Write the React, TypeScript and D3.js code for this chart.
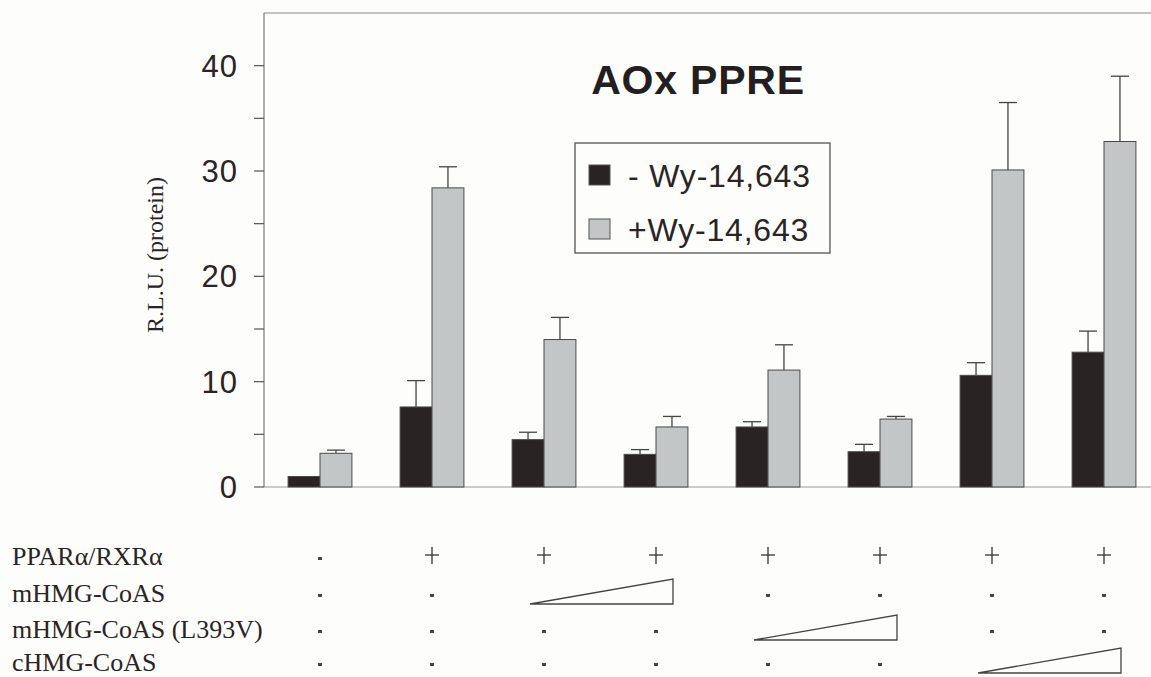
import * as React from 'react';
import * as d3 from 'd3';

const width = 1151;
const height = 677;

const groups = ['g1', 'g2', 'g3', 'g4', 'g5', 'g6', 'g7', 'g8'];
const series = ['- Wy-14,643', '+Wy-14,643'];
const minusWy = [1.0, 7.6, 4.5, 3.1, 5.7, 3.35, 10.6, 12.8];
const minusWyErr = [0, 2.5, 0.7, 0.45, 0.5, 0.7, 1.2, 2.0];
const plusWy = [3.2, 28.4, 14.0, 5.7, 11.1, 6.45, 30.1, 32.8];
const plusWyErr = [0.3, 2.0, 2.1, 1.0, 2.4, 0.25, 6.4, 6.2];
const yTicks = [0, 10, 20, 30, 40];
const yMinorTicks = [5, 15, 25, 35];

const rowLabels = ['PPARα/RXRα', 'mHMG-CoAS', 'mHMG-CoAS (L393V)', 'cHMG-CoAS'];
const rowPPAR = ['-', '+', '+', '+', '+', '+', '+', '+'];
const rowMHMG = ['-', '-', 'ramp', 'ramp', '-', '-', '-', '-'];
const rowMutant = ['-', '-', '-', '-', 'ramp', 'ramp', '-', '-'];
const rowCHMG = ['-', '-', '-', '-', '-', '-', 'ramp', 'ramp'];
const tableRows = [rowPPAR, rowMHMG, rowMutant, rowCHMG];

const colors = ['#2a2323', '#c2c6c6'];

export default function App() {
  const x = d3.scaleBand<string>().domain(groups).range([264, 1160]).paddingInner(0.43).paddingOuter(0.215);
  const xs = d3.scaleBand<string>().domain(series).range([0, x.bandwidth()]);
  const y = d3.scaleLinear().domain([0, 45]).range([487, 13]);

  const values = [minusWy, plusWy];
  const errs = [minusWyErr, plusWyErr];
  const cx = (g: string) => (x(g) ?? 0) + x.bandwidth() / 2;

  const rowBaselines = [565, 602, 638, 671];
  const sans = 'Arial, "Liberation Sans", Helvetica, sans-serif';
  const serif = '"Times New Roman", "Liberation Serif", serif';

  return (
    <svg width={width} height={height} style={{position: 'absolute', left: 0, top: 0, background: '#fdfdfc'}}>
      {/* frame */}
      <line x1={264} x2={width} y1={y(45)} y2={y(45)} stroke="#8a8a8a" strokeWidth={1.2} />
      <line x1={264} x2={width} y1={y(0)} y2={y(0)} stroke="#9a9a9a" strokeWidth={1.2} />
      <line x1={264} x2={264} y1={y(45)} y2={y(0)} stroke="#7a7a7a" strokeWidth={1.2} />

      {/* y ticks */}
      {yTicks.concat(yMinorTicks).map(t => (
        <line key={'t' + t} x1={254} x2={264} y1={y(t)} y2={y(t)} stroke="#555" strokeWidth={1.2} />
      ))}
      {yTicks.map(t => (
        <text key={'l' + t} x={238} y={y(t)} dy="0.36em" textAnchor="end" fontFamily={sans} fontSize={31} letterSpacing={1} fill="#2a2424">
          {t}
        </text>
      ))}
      <text transform={`translate(163,${255}) rotate(-90)`} textAnchor="middle" fontFamily={serif} fontSize={24} fill="#2a2424">
        R.L.U. (protein)
      </text>

      {/* bars */}
      {groups.map((g, i) => (
        <g key={g} transform={`translate(${x(g)},0)`}>
          {series.map((s, k) => {
            const v = values[k][i];
            const e = errs[k][i];
            const bx = xs(s) ?? 0;
            const mid = bx + xs.bandwidth() / 2;
            return (
              <g key={s}>
                {e > 0 && (
                  <g stroke="#444" strokeWidth={1.3}>
                    <line x1={mid} x2={mid} y1={y(v)} y2={y(v + e)} />
                    <line x1={mid - 9} x2={mid + 9} y1={y(v + e)} y2={y(v + e)} />
                  </g>
                )}
                <rect x={bx} y={y(v)} width={xs.bandwidth()} height={y(0) - y(v)} fill={colors[k]} stroke="#4a4a4a" strokeWidth={1} />
              </g>
            );
          })}
        </g>
      ))}

      {/* title */}
      <text x={698} y={94} textAnchor="middle" fontFamily={sans} fontWeight="bold" fontSize={41} letterSpacing={0.8} fill="#231f20">
        AOx PPRE
      </text>

      {/* legend */}
      <rect x={575} y={143} width={255} height={110} fill="#fdfdfc" stroke="#555" strokeWidth={1.3} />
      {series.map((s, k) => (
        <g key={s} transform={`translate(589,${165 + k * 54})`}>
          <rect width={21} height={20} fill={colors[k]} stroke="#555" strokeWidth={1} />
          <text x={39} y={10} dy="0.36em" fontFamily={sans} fontSize={32} letterSpacing={0.8} fill="#2a2424">
            {s}
          </text>
        </g>
      ))}

      {/* condition table */}
      {rowLabels.map((r, ri) => (
        <text key={r} x={12} y={rowBaselines[ri]} fontFamily={serif} fontSize={26} fill="#2a2424">
          {r}
        </text>
      ))}
      {tableRows.map((row, ri) => {
        const base = rowBaselines[ri];
        const marks: React.ReactNode[] = [];
        row.forEach((m, gi) => {
          const c = cx(groups[gi]);
          if (m === '+') {
            marks.push(
              <g key={gi} stroke="#333" strokeWidth={1.3}>
                <line x1={c - 7} x2={c + 7} y1={base - 10} y2={base - 10} />
                <line x1={c} x2={c} y1={base - 18} y2={base - 1} />
              </g>
            );
          } else if (m === '-') {
            marks.push(<rect key={gi} x={c - 2} y={base - 8} width={4} height={3} fill="#444" />);
          } else if (m === 'ramp' && row[gi - 1] !== 'ramp') {
            const x0 = c - 14;
            const x1 = cx(groups[gi + 1]) + 17;
            const b = Math.min(base + 2, height - 1);
            marks.push(
              <path key={gi} d={`M${x0},${b}L${x1},${b - 25}L${x1},${b}Z`} fill="#fdfdfc" stroke="#444" strokeWidth={1.3} />
            );
          }
        });
        return <g key={ri}>{marks}</g>;
      })}
    </svg>
  );
}
